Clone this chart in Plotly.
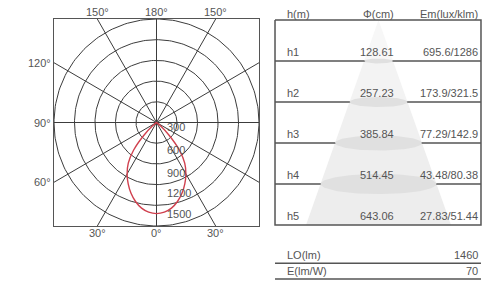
import numpy as np
import plotly.graph_objects as go

# ---------------- data ----------------
GAMMA_DEG = [0, 5, 10, 15, 20, 25, 30, 35, 40, 45, 50, 55, 60]
INTENSITY = [1320, 1305, 1260, 1185, 1090, 980, 860, 720, 520, 260, 70, 10, 0]
RING_VALUES = [300, 600, 900, 1200, 1500]
SPOKE_ANGLES = [0, 30, 60, 90, 120, 150]
ANGLE_LABEL_TOP = [210, 180, 150]
ANGLE_LABEL_LEFT = [240, 270, 300]
ANGLE_LABEL_BOTTOM = [330, 0, 30]

HEADERS = ["h(m)", "Φ(cm)", "Em(lux/klm)"]
ROW_LABELS = ["h1", "h2", "h3", "h4", "h5"]
DIAMETER_CM = [128.61, 257.23, 385.84, 514.45, 643.06]
EM_VALUES = ["695.6/1286", "173.9/321.5", "77.29/142.9", "43.48/80.38", "27.83/51.44"]
SUMMARY_LABELS = ["LO(lm)", "E(lm/W)"]
SUMMARY_VALUES = ["1460", "70"]

# ---------------- styles / layout constants ----------------
W, H = 498, 286
FONT = "Liberation Sans, Arial, sans-serif"
GRID = "#3c3c3c"
TXT = "#555555"
LINE = "#555555"
RED = "#d0404e"
RMAX = RING_VALUES[-1]
RING_LABEL_LIFT = [235, 200, 175, 175, 175]  # label placement inside each ring

fig = go.Figure()

# ---------- polar diagram (cartesian axes x/y in cd/klm) ----------
sx, sy = [], []
for a in SPOKE_ANGLES:
    r = np.deg2rad(a)
    dx, dy = np.sin(r), -np.cos(r)
    t = RMAX / max(abs(dx), abs(dy))
    sx += [-dx * t, dx * t, None]
    sy += [-dy * t, dy * t, None]
fig.add_trace(go.Scatter(x=sx, y=sy, mode="lines", line=dict(color=GRID, width=1),
                         hoverinfo="skip", showlegend=False, xaxis="x", yaxis="y"))
th = np.linspace(0, 2 * np.pi, 241)
cx, cy = [], []
for rv in RING_VALUES:
    cx += list(rv * np.cos(th)) + [None]
    cy += list(rv * np.sin(th)) + [None]
fig.add_trace(go.Scatter(x=cx, y=cy, mode="lines", line=dict(color=GRID, width=1),
                         hoverinfo="skip", showlegend=False, xaxis="x", yaxis="y"))
g = np.deg2rad(np.array(GAMMA_DEG, dtype=float))
I = np.array(INTENSITY, dtype=float)
gg = np.concatenate([-g[::-1], g[1:]])
II = np.concatenate([I[::-1], I[1:]])
fig.add_trace(go.Scatter(x=II * np.sin(gg), y=-II * np.cos(gg), mode="lines",
                         line=dict(color=RED, width=1.4, shape="spline", smoothing=0.6),
                         hoverinfo="skip", showlegend=False, xaxis="x", yaxis="y"))

ann = []
for rv, lift in zip(RING_VALUES, RING_LABEL_LIFT):
    ann.append(dict(x=130, y=-(rv - lift), xref="x", yref="y", text=str(rv), showarrow=False,
                    xanchor="left", yanchor="middle", font=dict(family=FONT, size=11, color=TXT)))


def edge_point(a):
    r = np.deg2rad(a)
    dx, dy = np.sin(r), -np.cos(r)
    t = RMAX / max(abs(dx), abs(dy))
    return dx * t, dy * t


def fold(a):
    return f"{min(a, 360 - a)}°"


for a in ANGLE_LABEL_TOP:
    px, py = edge_point(a)
    ann.append(dict(x=px, y=py, xref="x", yref="y", text=fold(a), showarrow=False,
                    xanchor="center", yanchor="bottom", yshift=-1,
                    font=dict(family=FONT, size=11, color=TXT)))
for a in ANGLE_LABEL_LEFT:
    px, py = edge_point(a)
    ann.append(dict(x=px, y=py, xref="x", yref="y", text=fold(a), showarrow=False,
                    xanchor="right", yanchor="middle", xshift=-1,
                    font=dict(family=FONT, size=11, color=TXT)))
for a in ANGLE_LABEL_BOTTOM:
    px, py = edge_point(a)
    ann.append(dict(x=px, y=py, xref="x", yref="y", text=fold(a), showarrow=False,
                    xanchor="center", yanchor="top", yshift=1,
                    font=dict(family=FONT, size=11, color=TXT)))

# ---------- table (x2 in cm, y2 in rows) ----------
TABLE_X = (-459, 454.5)
COL_H_X = -414
COL_PHI_X = 77.6
COL_EM_X = 450
nrows = len(ROW_LABELS)
widths = [0.0] + DIAMETER_CM
cone_colors = ["#f7f7f7", "#f3f3f3", "#f0f0f0", "#eeeeee", "#ededed"]
for k in range(nrows):
    w0, w1 = widths[k] / 2, widths[k + 1] / 2
    fig.add_trace(go.Scatter(x=[-w0, w0, w1, -w1, -w0], y=[k, k, k + 1, k + 1, k],
                             mode="lines", fill="toself", fillcolor=cone_colors[k],
                             line=dict(width=0, color=cone_colors[k]),
                             hoverinfo="skip", showlegend=False, xaxis="x2", yaxis="y2"))
rx, ry = [], []
for k in range(1, nrows):
    rx += [TABLE_X[0], TABLE_X[1], None]
    ry += [k, k, None]
fig.add_trace(go.Scatter(x=rx, y=ry, mode="lines", line=dict(color=LINE, width=1.3),
                         hoverinfo="skip", showlegend=False, xaxis="x2", yaxis="y2"))
ELL_RATIO = 0.00048
t2 = np.linspace(0, 2 * np.pi, 121)
for k in range(1, nrows):
    d = DIAMETER_CM[k - 1]
    fig.add_trace(go.Scatter(x=d / 2 * np.cos(t2), y=k + d * ELL_RATIO * np.sin(t2),
                             mode="lines", fill="toself", fillcolor="#e0e0e0",
                             line=dict(width=0, color="#e0e0e0"),
                             hoverinfo="skip", showlegend=False, xaxis="x2", yaxis="y2"))
fig.add_trace(go.Scatter(
    x=[TABLE_X[0], TABLE_X[1], TABLE_X[1], TABLE_X[0], TABLE_X[0]],
    y=[0, 0, nrows, nrows, 0], mode="lines", line=dict(color=LINE, width=1.5),
    hoverinfo="skip", showlegend=False, xaxis="x2", yaxis="y2"))
SUM_TEXT_Y = [5.73, 6.12]
SUM_LINE_Y = [5.93, 6.32]
lx, ly = [], []
for yv in SUM_LINE_Y:
    lx += [TABLE_X[0], TABLE_X[1], None]
    ly += [yv, yv, None]
fig.add_trace(go.Scatter(x=lx, y=ly, mode="lines", line=dict(color=LINE, width=1.5),
                         hoverinfo="skip", showlegend=False, xaxis="x2", yaxis="y2"))

tf = dict(family=FONT, size=11, color=TXT)
HEAD_Y = -0.15
ann.append(dict(x=COL_H_X, y=HEAD_Y, xref="x2", yref="y2", text=HEADERS[0], showarrow=False,
                xanchor="left", yanchor="middle", font=tf))
ann.append(dict(x=COL_PHI_X, y=HEAD_Y, xref="x2", yref="y2", text=HEADERS[1], showarrow=False,
                xanchor="right", yanchor="middle", font=tf))
ann.append(dict(x=COL_EM_X, y=HEAD_Y, xref="x2", yref="y2", text=HEADERS[2], showarrow=False,
                xanchor="right", yanchor="middle", font=tf))
for k in range(nrows):
    yk = k + 1 - 0.22
    ann.append(dict(x=COL_H_X, y=yk, xref="x2", yref="y2", text=ROW_LABELS[k], showarrow=False,
                    xanchor="left", yanchor="middle", font=tf))
    ann.append(dict(x=COL_PHI_X, y=yk, xref="x2", yref="y2", text=f"{DIAMETER_CM[k]:.2f}",
                    showarrow=False, xanchor="right", yanchor="middle", font=tf))
    ann.append(dict(x=COL_EM_X, y=yk, xref="x2", yref="y2", text=EM_VALUES[k], showarrow=False,
                    xanchor="right", yanchor="middle", font=tf))
for lab, val, yv in zip(SUMMARY_LABELS, SUMMARY_VALUES, SUM_TEXT_Y):
    ann.append(dict(x=COL_H_X, y=yv, xref="x2", yref="y2", text=lab, showarrow=False,
                    xanchor="left", yanchor="middle", font=tf))
    ann.append(dict(x=COL_EM_X, y=yv, xref="x2", yref="y2", text=val, showarrow=False,
                    xanchor="right", yanchor="middle", font=tf))

hidden = dict(showgrid=False, zeroline=False, showticklabels=False, ticks="")
fig.update_layout(
    template="none",
    width=W, height=H, margin=dict(l=0, r=0, t=0, b=0),
    paper_bgcolor="white", plot_bgcolor="rgba(0,0,0,0)",
    showlegend=False,
    font=dict(family=FONT, size=11, color=TXT),
    xaxis=dict(domain=[54 / W, 259 / W], range=[-RMAX, RMAX], showline=True, mirror=True,
               linecolor=LINE, linewidth=1.3, **hidden),
    yaxis=dict(domain=[(H - 226) / H, (H - 19) / H], range=[-RMAX, RMAX], showline=True,
               mirror=True, linecolor=LINE, linewidth=1.3, **hidden),
    xaxis2=dict(domain=[270 / W, 486 / W], range=[-481.2, 476.7], showline=False, **hidden),
    yaxis2=dict(domain=[0, 1], range=[(H - 20) / 41, -20 / 41], showline=False, **hidden),
    annotations=ann,
)

fig.write_html("out.html", config={"displayModeBar": False, "staticPlot": True},
               post_script="document.body.style.margin='0';")
